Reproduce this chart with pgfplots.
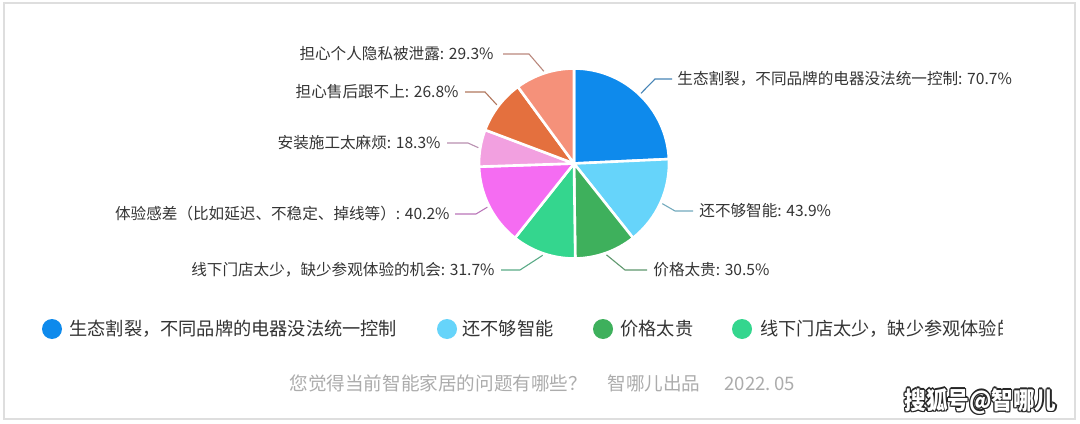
\documentclass[border=0pt]{standalone}
\usepackage{pgfplots}
\pgfplotsset{compat=1.18}
\usepackage{pgfplotstable}
\usepackage{fontspec}
\setmainfont{Noto Sans CJK SC}
\definecolor{c1}{RGB}{14,138,236}
\definecolor{c2}{RGB}{102,212,250}
\definecolor{c3}{RGB}{62,176,92}
\definecolor{c4}{RGB}{52,214,142}
\definecolor{c5}{RGB}{245,108,242}
\definecolor{c6}{RGB}{242,160,224}
\definecolor{c7}{RGB}{228,112,62}
\definecolor{c8}{RGB}{245,145,122}
\definecolor{txt}{RGB}{52,52,52}
\definecolor{foot}{RGB}{172,172,172}
\definecolor{frame}{RGB}{222,222,222}

\pgfplotstableread{
value
70.7
43.9
30.5
31.7
40.2
18.3
26.8
29.3
}\piedata

\newcommand\getv[2]{\pgfplotstablegetelem{#1}{value}\of\piedata\global\let#2\pgfplotsretval}
\newcommand\slice[3]{\fill[#3, draw=white, line width=1.3pt, line join=round] (axis cs:574,259.5) -- ++(#1:47.5pt) arc[start angle=#1, end angle=#2, radius=47.5pt] -- cycle;}
\newcommand\lead[6]{\draw[#1!50!gray, line width=0.55pt] (axis cs:574,259.5) ++({(#2+#3)/2}:48.5pt) -- (axis cs:#4,#6) -- (axis cs:#5,#6);}
\newcommand\wmshadow[2]{\node[inner sep=0pt, anchor=west, text=black!85, font=\bfseries\fontsize{10.8}{12}\selectfont, yscale=1.12] at ([xshift=#1pt, yshift=#2pt]axis cs:904,22) {搜狐号@智哪儿};}

\begin{document}
\begin{tikzpicture}
\getv{0}\vA\getv{1}\vB\getv{2}\vC\getv{3}\vD
\getv{4}\vE\getv{5}\vF\getv{6}\vG\getv{7}\vH
\pgfmathsetmacro\tot{\vA+\vB+\vC+\vD+\vE+\vF+\vG+\vH}
\pgfmathsetmacro\aA{90}
\pgfmathsetmacro\aB{\aA-360*(\vA/\tot)}
\pgfmathsetmacro\aC{\aB-360*(\vB/\tot)}
\pgfmathsetmacro\aD{\aC-360*(\vC/\tot)}
\pgfmathsetmacro\aE{\aD-360*(\vD/\tot)}
\pgfmathsetmacro\aF{\aE-360*(\vE/\tot)}
\pgfmathsetmacro\aG{\aF-360*(\vF/\tot)}
\pgfmathsetmacro\aH{\aG-360*(\vG/\tot)}
\pgfmathsetmacro\aI{\aH-360*(\vH/\tot)}
\begin{axis}[x=0.5pt, y=0.5pt, xmin=0, xmax=1080, ymin=0, ymax=423, hide axis, clip=false,
  scale only axis]
\fill[white] (axis cs:0,0) rectangle (axis cs:1080,423);
\draw[frame, line width=1.2pt] (axis cs:4,4) rectangle (axis cs:1075,420);
\slice{\aA}{\aB}{c1}
\slice{\aB}{\aC}{c2}
\slice{\aC}{\aD}{c3}
\slice{\aD}{\aE}{c4}
\slice{\aE}{\aF}{c5}
\slice{\aF}{\aG}{c6}
\slice{\aG}{\aH}{c7}
\slice{\aH}{\aI}{c8}
\lead{c1}{\aA}{\aB}{655}{672}{344}
\lead{c2}{\aB}{\aC}{675}{693}{212}
\lead{c3}{\aC}{\aD}{625}{647}{153}
\lead{c4}{\aD}{\aE}{520}{501}{153}
\lead{c5}{\aE}{\aF}{476}{455}{209}
\lead{c6}{\aF}{\aG}{468}{447}{280}
\lead{c7}{\aG}{\aH}{485}{465}{331}
\lead{c8}{\aH}{\aI}{529}{503}{369}
\begin{scope}[every node/.style={inner sep=0pt, text=txt, font=\fontsize{7.8}{9}\selectfont}]
\node[anchor=west] at (axis cs:677,344) {生态割裂，不同品牌的电器没法统一控制: 70.7\%};
\node[anchor=west] at (axis cs:699,212) {还不够智能: 43.9\%};
\node[anchor=west] at (axis cs:653,153) {价格太贵: 30.5\%};
\node[anchor=east] at (axis cs:495,153) {线下门店太少，缺少参观体验的机会: 31.7\%};
\node[anchor=east] at (axis cs:450,209) {体验感差（比如延迟、不稳定、掉线等）: 40.2\%};
\node[anchor=east] at (axis cs:441,280) {安装施工太麻烦: 18.3\%};
\node[anchor=east] at (axis cs:459,331) {担心售后跟不上: 26.8\%};
\node[anchor=east] at (axis cs:494,369) {担心个人隐私被泄露: 29.3\%};
\end{scope}
% legend
\fill[c1] (axis cs:52,94) circle[radius=5pt];
\fill[c2] (axis cs:447,94) circle[radius=5pt];
\fill[c3] (axis cs:603,94) circle[radius=5pt];
\fill[c4] (axis cs:742,94) circle[radius=5pt];
\begin{scope}[every node/.style={inner sep=0pt, text=txt, anchor=west, font=\fontsize{9.1}{11}\selectfont}]
\node at (axis cs:69,94) {生态割裂，不同品牌的电器没法统一控制};
\node at (axis cs:462,94) {还不够智能};
\node at (axis cs:620,94) {价格太贵};
\begin{scope}
\clip (axis cs:755,70) rectangle (axis cs:1002,118);
\node at (axis cs:760,94) {线下门店太少，缺少参观体验的机会};
\end{scope}
\end{scope}
% footer
\node[inner sep=0pt, anchor=west, text=foot, font=\fontsize{9.3}{11}\selectfont] at (axis cs:289,40) {您觉得当前智能家居的问题有哪些？\hspace{1.1em}智哪儿出品\hspace{1.3em}2022.\,05};
% watermark
\wmshadow{-0.6}{0}\wmshadow{0.6}{0}\wmshadow{0}{-0.6}\wmshadow{0}{0.6}
\wmshadow{0.5}{0.5}\wmshadow{-0.5}{0.5}\wmshadow{0.5}{-0.5}\wmshadow{-0.5}{-0.5}
\node[inner sep=0pt, anchor=west, text=white, font=\bfseries\fontsize{10.8}{12}\selectfont, yscale=1.12] at (axis cs:904,22) {搜狐号@智哪儿};
\end{axis}
\end{tikzpicture}
\end{document}
